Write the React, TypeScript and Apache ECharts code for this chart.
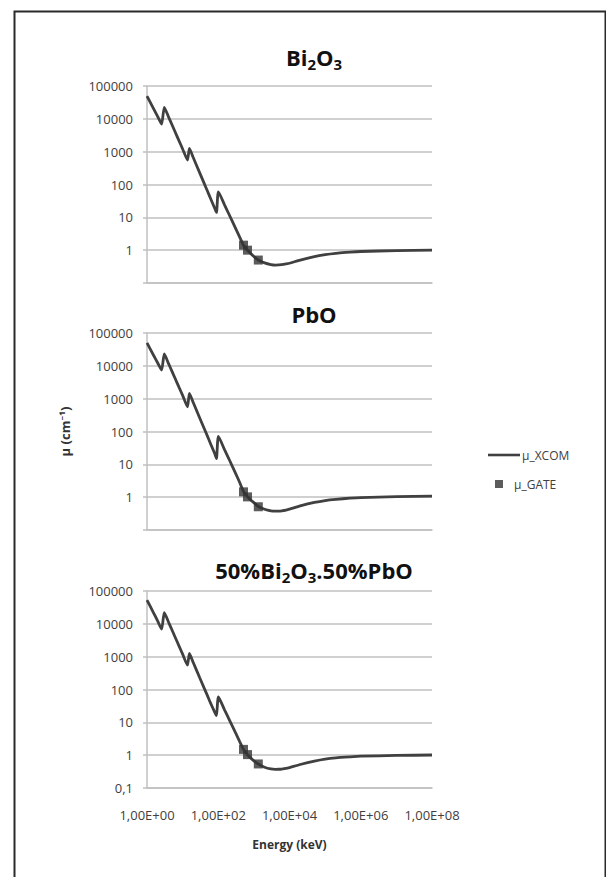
import React, { useEffect, useRef } from 'react';
import * as echarts from 'echarts';

// Photon energy grid (keV) for the XCOM curves
const energies = [
  1, 1.5, 2, 2.57, 3.06, 4, 5, 6, 8, 10, 13.7, 15.5, 20, 30, 40, 50, 60, 80, 89, 101,
  150, 200, 300, 400, 511, 662, 800, 1000, 1332, 2000, 3000, 4000, 5000, 6000, 8000,
  10000, 20000, 50000, 100000, 200000, 500000, 1e6, 1e7, 1e8,
];

// Linear attenuation coefficient μ (cm^-1), XCOM
const muXcomBi2O3 = [
  49500, 21200, 11600, 6900, 22400, 11600, 6700, 4260, 2090, 1210, 555, 1255, 653, 230, 110, 62, 38.8, 18.5, 14.1, 60,
  24, 12.4, 4.85, 2.5, 1.42, 1.0, 0.8, 0.64, 0.5, 0.41, 0.365, 0.352, 0.355, 0.36, 0.38,
  0.4, 0.5, 0.64, 0.73, 0.8, 0.87, 0.91, 0.97, 1.0,
];
const muXcomPbO = [
  50000, 21800, 12200, 7400, 23000, 11900, 6900, 4400, 2170, 1260, 563, 1450, 750, 262, 126, 71, 44, 21, 15, 71,
  28, 14.5, 5.6, 2.8, 1.5, 1.04, 0.84, 0.68, 0.52, 0.43, 0.385, 0.375, 0.378, 0.385, 0.405,
  0.43, 0.54, 0.69, 0.79, 0.86, 0.93, 0.97, 1.04, 1.08,
];
const muXcomMix = [
  53000, 22500, 12000, 6900, 22000, 11400, 6600, 4200, 2060, 1190, 555, 1250, 652, 232, 112, 64, 40, 20, 16, 59,
  24, 12.6, 5.0, 2.6, 1.5, 1.04, 0.83, 0.67, 0.54, 0.43, 0.38, 0.37, 0.372, 0.378, 0.395,
  0.42, 0.52, 0.66, 0.76, 0.83, 0.89, 0.93, 0.98, 1.01,
];

// GATE simulation points
const gateEnergies = [511, 662, 1332];
const muGateBi2O3 = [1.42, 1.0, 0.5];
const muGatePbO = [1.45, 1.02, 0.51];
const muGateMix = [1.5, 1.04, 0.54];

// Tick labels
const yTickLabels = ['0,1', '1', '10', '100', '1000', '10000', '100000'];
const xTickLabels = ['1,00E+00', '1,00E+02', '1,00E+04', '1,00E+06', '1,00E+08'];

const seriesNames = ['μ_XCOM', 'μ_GATE'];

const FONT = '"Open Sans", "Noto Sans", "DejaVu Sans", sans-serif';
const GRID_COLOR = '#c0c0c0';
const CURVE_COLOR = '#404040';
const LABEL_COLOR = '#404040';

type Panel = {
  title: [string, 'a' | 's'][];
  top: number;
  titleY: number;
  xcom: number[];
  gate: number[];
  showX: boolean;
  showMin: boolean;
  yName: string;
};

const panels: Panel[] = [
  { title: [['Bi', 'a'], ['2', 's'], ['O', 'a'], ['3', 's']], top: 86, titleY: 57, xcom: muXcomBi2O3, gate: muGateBi2O3, showX: false, showMin: false, yName: '' },
  { title: [['PbO', 'a']], top: 333, titleY: 314, xcom: muXcomPbO, gate: muGatePbO, showX: false, showMin: false, yName: 'μ (cm⁻¹)' },
  { title: [['50%Bi', 'a'], ['2', 's'], ['O', 'a'], ['3', 's'], ['.50%PbO', 'a']], top: 591, titleY: 570, xcom: muXcomMix, gate: muGateMix, showX: true, showMin: true, yName: '' },
];

export default function App() {
  const ref = useRef<HTMLDivElement>(null);

  useEffect(() => {
    if (!ref.current) return;
    const chart = echarts.init(ref.current, null, { renderer: 'svg' });

    const axisLineStyle = { color: GRID_COLOR, width: 1.5 };

    const option: any = {
      animation: false,
      backgroundColor: '#ffffff',
      grid: panels.map((p) => ({ left: 147, top: p.top, width: 285, height: 197 })),
      xAxis: panels.map((p, i) => ({
        type: 'log',
        logBase: 10,
        gridIndex: i,
        min: 1,
        max: 1e8,
        interval: 2,
        splitLine: { show: false },
        axisTick: { show: false },
        axisLine: { show: true, lineStyle: axisLineStyle },
        axisLabel: {
          show: p.showX,
          margin: 20,
          fontSize: 13,
          color: LABEL_COLOR,
          fontFamily: FONT,
          formatter: (v: number) => {
            const e = Math.round(Math.log10(v));
            return e % 2 === 0 ? xTickLabels[e / 2] : '';
          },
        },
        name: p.showX ? 'Energy (keV)' : '',
        nameLocation: 'middle',
        nameGap: 50,
        nameTextStyle: { fontSize: 12, fontWeight: 'bold', color: '#333', fontFamily: FONT },
      })),
      yAxis: panels.map((p, i) => ({
        type: 'log',
        logBase: 10,
        gridIndex: i,
        min: 0.1,
        max: 100000,
        interval: 1,
        axisLine: { show: true, lineStyle: axisLineStyle },
        axisTick: { show: true, length: 4, lineStyle: axisLineStyle },
        splitLine: { show: true, lineStyle: { color: GRID_COLOR, width: 1.5 } },
        axisLabel: {
          margin: 14,
          fontSize: 13,
          color: LABEL_COLOR,
          fontFamily: FONT,
          formatter: (v: number) => {
            const e = Math.round(Math.log10(v));
            if (e < 0 && !p.showMin) return '';
            return yTickLabels[e + 1] ?? '';
          },
        },
        name: p.yName,
        nameLocation: 'middle',
        nameRotate: 90,
        nameGap: 76,
        nameTextStyle: { fontSize: 13, fontWeight: 'bold', color: '#333', fontFamily: FONT },
      })),
      legend: [
        {
          data: [{ name: seriesNames[0], icon: 'path://M0,0h32v2.6h-32z' }],
          left: 483,
          top: 444,
          itemWidth: 32,
          itemHeight: 10,
          itemGap: 0,
          selectedMode: false,
          textStyle: { fontSize: 12, color: LABEL_COLOR, fontFamily: FONT, padding: [0, 0, 0, -3] },
        },
        {
          data: [{ name: seriesNames[1], icon: 'path://M0,0h10v10h-10z' }],
          left: 490,
          top: 473,
          itemWidth: 20,
          itemHeight: 8,
          selectedMode: false,
          textStyle: { fontSize: 12, color: LABEL_COLOR, fontFamily: FONT },
        },
      ],
      series: panels.flatMap((p, i) => [
        {
          name: seriesNames[0],
          type: 'line',
          xAxisIndex: i,
          yAxisIndex: i,
          data: energies.map((e, j) => [e, p.xcom[j]]),
          symbol: 'none',
          smooth: 0.2,
          lineStyle: { color: CURVE_COLOR, width: 2.8 },
          itemStyle: { color: CURVE_COLOR },
          z: 2,
        },
        {
          name: seriesNames[1],
          type: 'scatter',
          xAxisIndex: i,
          yAxisIndex: i,
          data: gateEnergies.map((e, j) => [e, p.gate[j]]),
          symbol: 'rect',
          symbolSize: 9,
          itemStyle: { color: '#333333' },
          z: 3,
        },
      ]),
      graphic: [
        {
          type: 'rect',
          left: 12,
          top: 9,
          shape: { width: 591, height: 900 },
          style: { fill: 'none', stroke: '#2a2a2a', lineWidth: 2 },
          silent: true,
        },
        ...panels.map((p) => ({
          type: 'text',
          x: 314,
          y: p.titleY,
          style: {
            text: p.title.map(([t, k]) => `{${k}|${t}}`).join(''),
            align: 'center',
            verticalAlign: 'middle',
            rich: {
              a: { fontSize: 22, fontWeight: 'bold', fontFamily: FONT, fill: '#111', lineHeight: 30 },
              s: { fontSize: 15, fontWeight: 'bold', fontFamily: FONT, fill: '#111', lineHeight: 16, padding: [14, 0, 0, 0] },
            },
          },
          silent: true,
        })),
      ],
    };

    chart.setOption(option);
    return () => chart.dispose();
  }, []);

  return (
    <div
      ref={ref}
      style={{ position: 'fixed', left: 0, top: 0, width: 606, height: 877, background: '#fff' }}
    />
  );
}
